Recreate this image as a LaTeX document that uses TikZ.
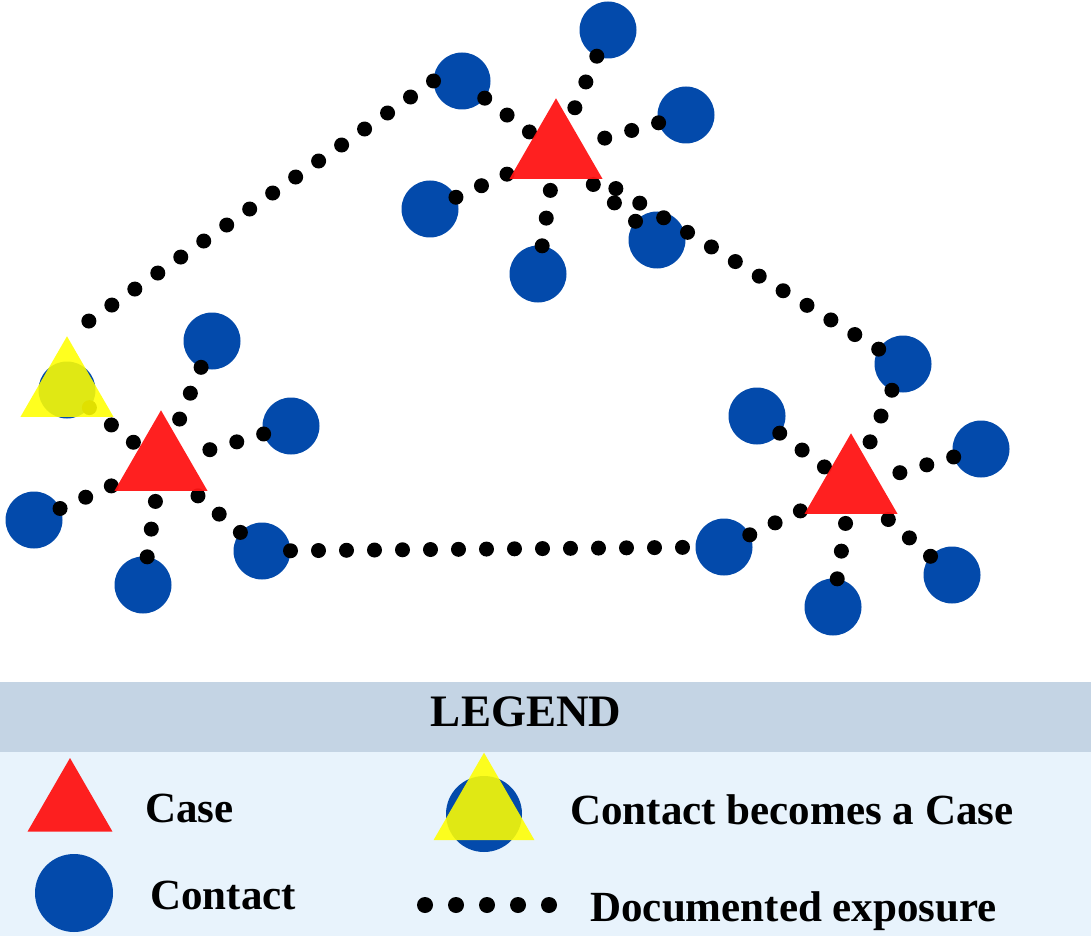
\documentclass[tikz,border=0pt]{standalone}
\usepackage{fontspec}
\setmainfont{Liberation Serif}
\usetikzlibrary{shapes.geometric}
\pgfdeclarelayer{bg}
\pgfdeclarelayer{fg}
\pgfsetlayers{bg,main,fg}
\definecolor{cblue}{RGB}{3,74,171}
\definecolor{cred}{RGB}{255,20,20}
\definecolor{cyel}{RGB}{255,255,0}
\definecolor{hdrbg}{RGB}{196,212,228}
\definecolor{bodybg}{RGB}{232,243,252}
\begin{document}
\begin{tikzpicture}[x=0.5pt,y=-0.5pt,
  contact/.style={circle,fill=cblue,draw=none,minimum size=28.5pt,inner sep=0pt,outer sep=0pt},
  casetri/.style={regular polygon,regular polygon sides=3,fill=cred,fill opacity=0.95,draw=none,minimum size=53.7pt,inner sep=0pt,outer sep=0pt},
  newcase/.style={regular polygon,regular polygon sides=3,fill=cyel,fill opacity=0.88,draw=none,minimum size=53.7pt,inner sep=0pt,outer sep=0pt},
  expo/.style={line width=7.5pt,line cap=round,dash pattern=on 0pt off 14pt},
  lbl/.style={anchor=base west,inner sep=0pt,font=\bfseries\fontsize{21.5pt}{24pt}\selectfont}]
\path[use as bounding box] (0,0) rectangle (1091,936);

\begin{pgfonlayer}{bg}
  \fill[hdrbg] (0,682) rectangle (1091,752);
  \fill[bodybg] (0,752) rectangle (1091,936);
  % contacts
  \node[contact] (c1top) at (608,30) {};
  \node[contact] (c1ul) at (462,81) {};
  \node[contact] (c1r) at (686,115) {};
  \node[contact] (c1l) at (430,209) {};
  \node[contact] (c1b) at (538,274) {};
  \node[contact] (c1lr) at (657,240) {};
  \node[contact] (c2ur) at (212,341) {};
  \node[contact] (c2r) at (291,426) {};
  \node[contact] (c2l) at (34,520) {};
  \node[contact] (c2b) at (143,585) {};
  \node[contact] (c2lr) at (262,551) {};
  \node[contact] (yc) at (67,390) {};
  \node[contact] (c3top) at (903,364) {};
  \node[contact] (c3ul) at (757,416) {};
  \node[contact] (c3r) at (981,449) {};
  \node[contact] (c3l) at (724,547) {};
  \node[contact] (c3b) at (833,607) {};
  \node[contact] (c3lr) at (952,575) {};
  % legend circles
  \node[contact,minimum size=39pt] (lcontact) at (74,893) {};
  \node[contact,minimum size=38pt] (lnewc) at (484,814) {};
\end{pgfonlayer}

\begin{pgfonlayer}{fg}
  \node[casetri] (t1) at (556,152) {};
  \node[casetri] (t2) at (161,464) {};
  \node[casetri] (t3) at (851,487) {};
  \node[newcase] (yt) at (67,390) {};
  \node[casetri,minimum size=49pt] (lcase) at (70,807) {};
  \node[newcase,minimum size=58.3pt] (lnewt) at (484,811) {};
\end{pgfonlayer}

% exposures, cluster 1
\draw[expo] (c1top) -- (t1);
\draw[expo] (c1ul) -- (t1);
\draw[expo] (c1r) -- (t1);
\draw[expo] (c1l) -- (t1);
\draw[expo] (c1b) -- (t1);
\draw[expo] (c1lr) -- (t1);
\draw[expo] (c3top) -- (t1);
\draw[expo] (c1ul.west) -- (yt.north);
% cluster 2
\draw[expo] (c2ur) -- (t2);
\draw[expo] (c2r) -- (t2);
\draw[expo] (c2l) -- (t2);
\draw[expo] (c2b) -- (t2);
\draw[expo] (c2lr) -- (t2);
\draw[expo] (yc) -- (t2);
\draw[expo] (c2lr) -- (c3l);
% cluster 3
\draw[expo] (c3top) -- (t3);
\draw[expo] (c3ul) -- (t3);
\draw[expo] (c3r) -- (t3);
\draw[expo] (c3l) -- (t3);
\draw[expo] (c3b) -- (t3);
\draw[expo] (c3lr) -- (t3);

% legend
\node[anchor=base,inner sep=0pt,font=\bfseries\fontsize{22.5pt}{25pt}\selectfont] (ltitle) at (526,726) {LEGEND};
\node[lbl] (tcase) at (145,822) {Case};
\node[lbl] (tcontact) at (150,909) {Contact};
\node[lbl] (tnew) at (570,824) {Contact becomes a Case};
\node[lbl] (texpo) at (590,921) {Documented exposure};
\coordinate (ld1) at (425,905);
\coordinate (ld2) at (549,905);
\draw[expo,line width=8pt,dash pattern=on 0pt off 15.5pt] (ld1) -- (ld2);
\end{tikzpicture}
\end{document}
